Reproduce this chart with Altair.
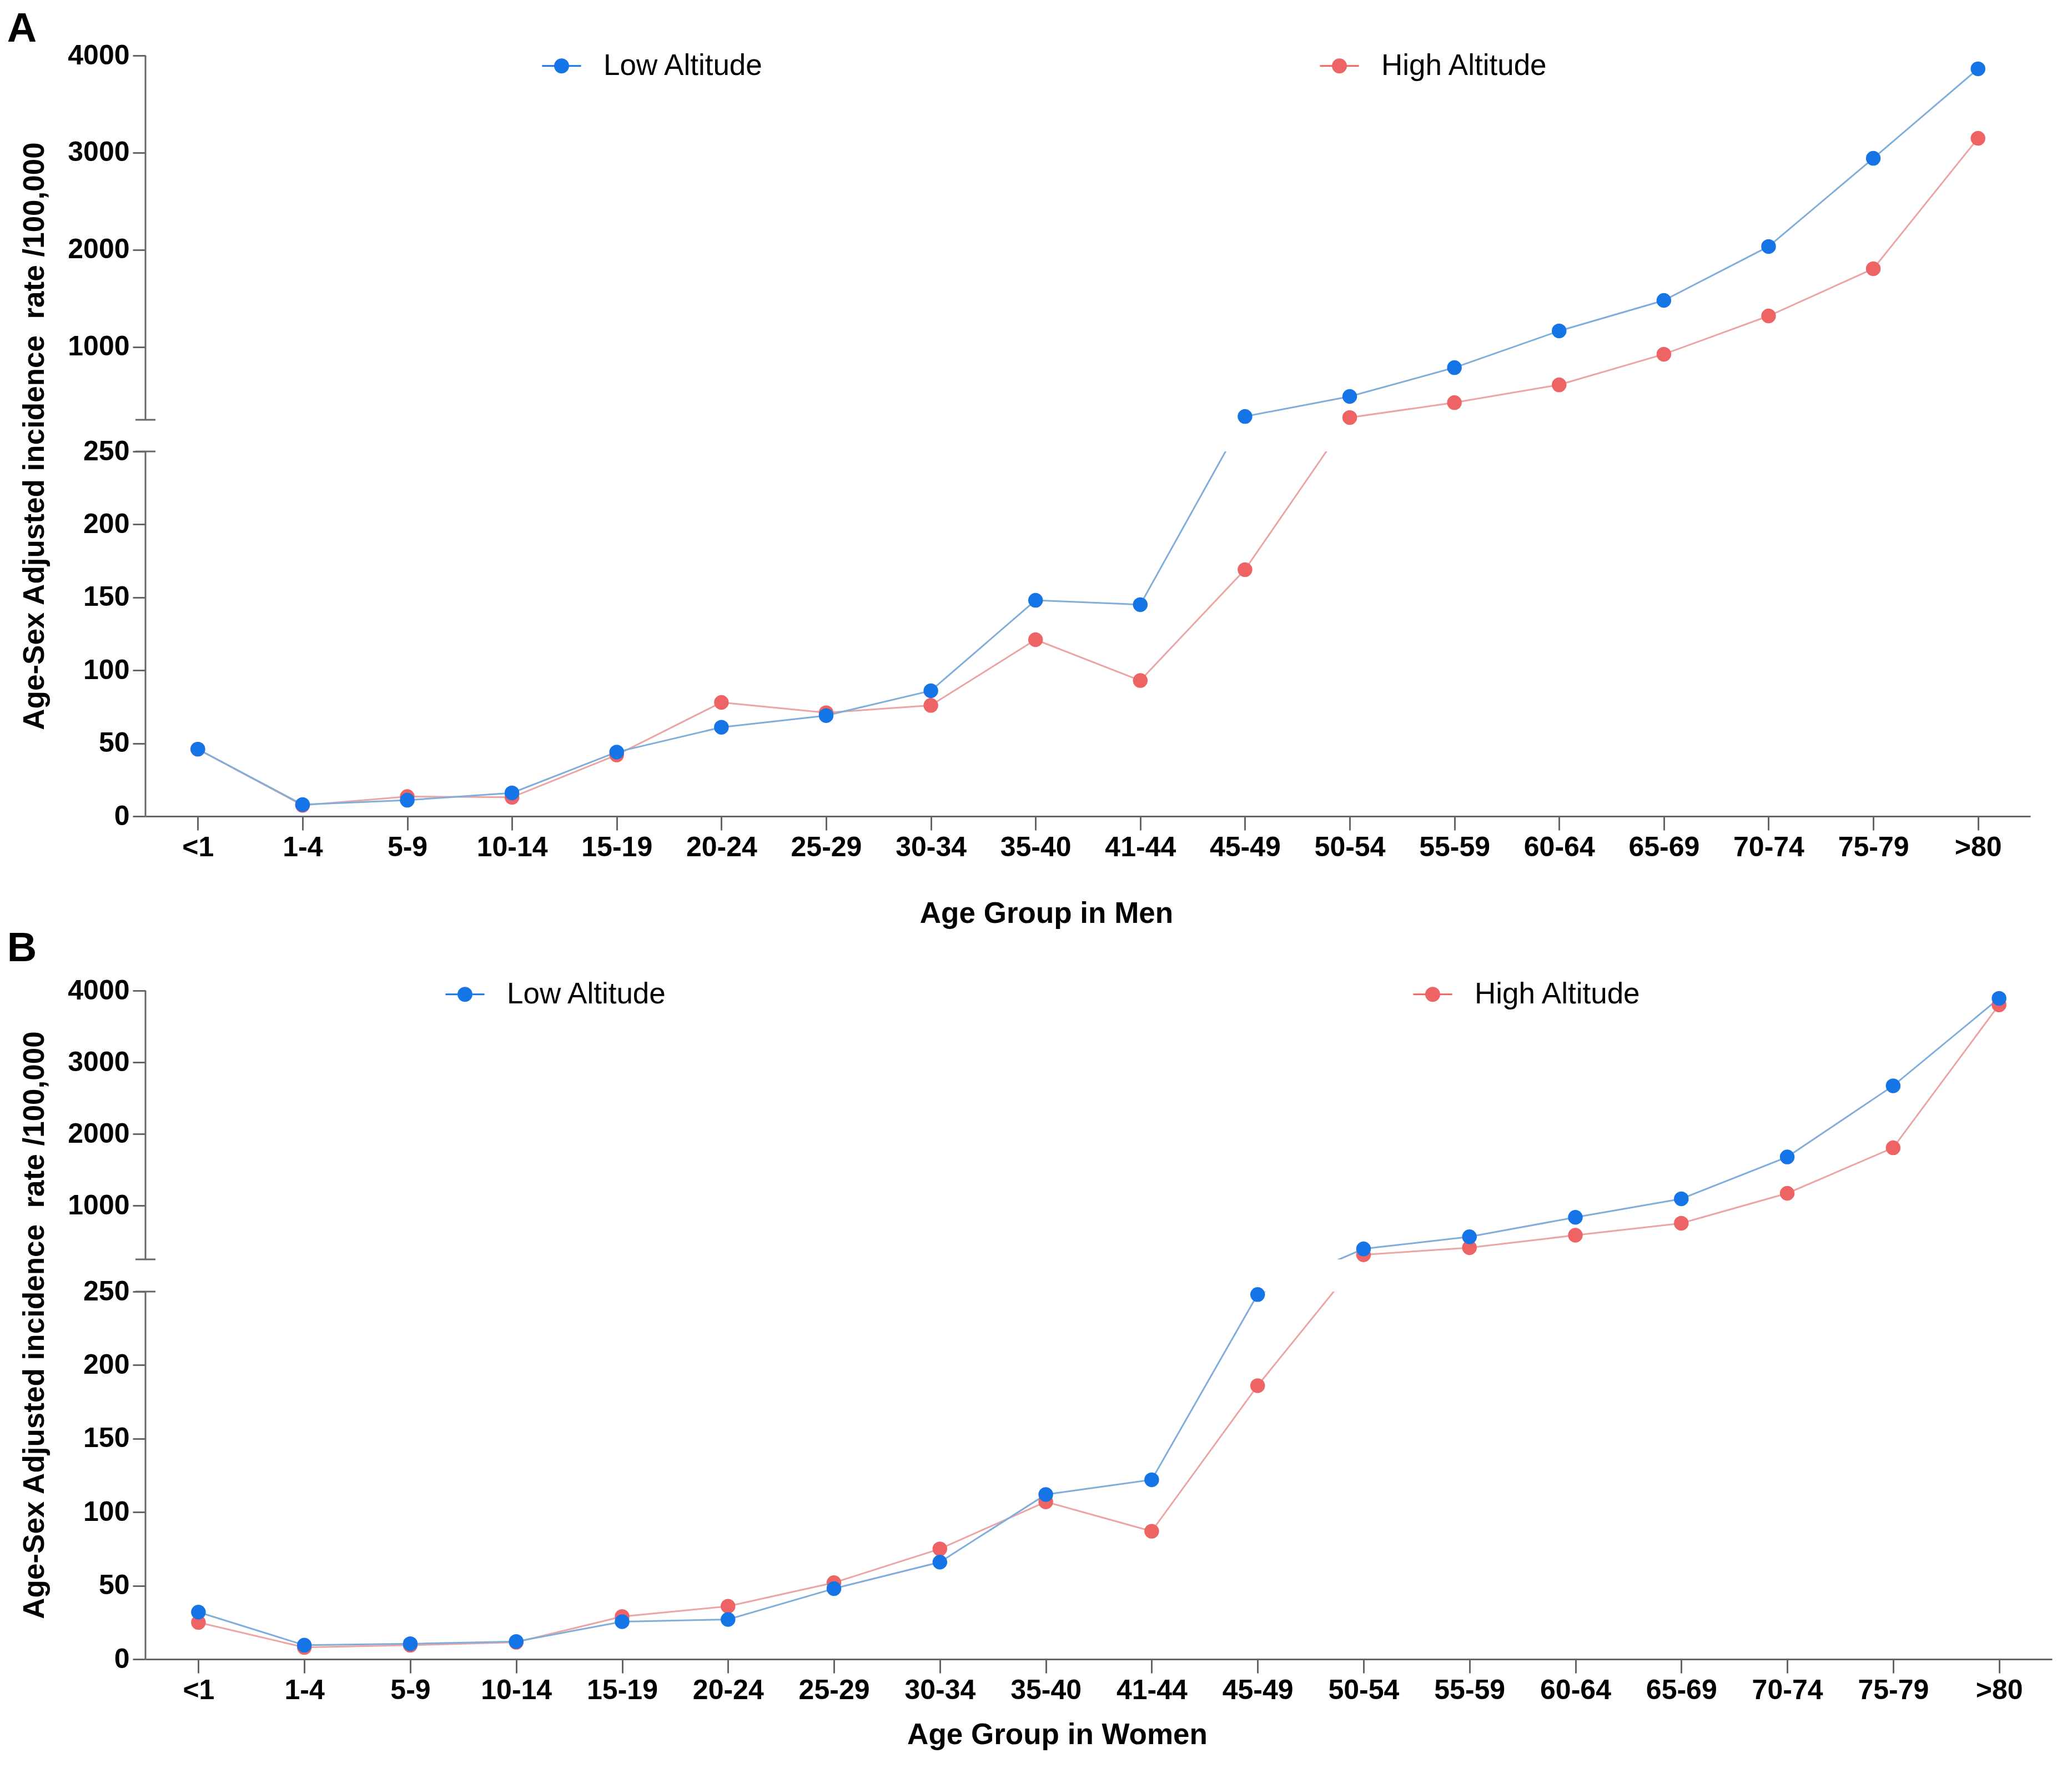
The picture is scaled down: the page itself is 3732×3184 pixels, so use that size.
import altair as alt
import pandas as pd

ages = ["<1", "1-4", "5-9", "10-14", "15-19", "20-24", "25-29", "30-34", "35-40",
        "41-44", "45-49", "50-54", "55-59", "60-64", "65-69", "70-74", "75-79", ">80"]
groups = ["Low Altitude", "High Altitude"]

men_low = [46, 8, 11, 16, 44, 61, 69, 86, 148, 145, 284, 490, 787, 1165, 1479, 2034, 2942, 3863]
men_high = [46, 7.5, 13.5, 13, 42, 78, 71, 76, 121, 93, 169, 273, 427, 610, 925, 1319, 1805, 3148]
women_low = [32, 9.5, 10.5, 12, 25.5, 27, 48, 66, 112, 122, 248, 397, 565, 837, 1095, 1679, 2672, 3892]
women_high = [25, 8, 9.5, 11.5, 29, 36, 52, 75, 107, 87, 186, 314, 413, 587, 754, 1172, 1807, 3801]

y_ticks = [0, 50, 100, 150, 200, 250, 1000, 2000, 3000, 4000]
break_lo = 250
break_hi = 250.001
y_max = 4000

dot_colors = ["#1574E6", "#EE6363"]
line_colors = ["#80AEDA", "#EBA5A5"]
AXC = "#666666"
FONT = "Liberation Sans"
LEG_PATH = ("M-2.6,-0.12H2.6V0.12H-2.6Z "
            "M1,0A1,1,0,1,1,-1,0A1,1,0,1,1,1,0Z")
Y_TITLE = "Age-Sex Adjusted incidence\u00a0 rate /100,000"


def long_df(low, high):
    rows = []
    for g, vals in (("High Altitude", high), ("Low Altitude", low)):
        for i, (a, v) in enumerate(zip(ages, vals)):
            rows.append({"age": a, "idx": i, "group": g, "value": v})
    return pd.DataFrame(rows)


def panel(low, high, letter, xtitle, W, H, split, legx, legy, colpad, xtp, toff):
    df = long_df(low, high)
    yscale = alt.Scale(domain=[0, break_lo, break_hi, y_max],
                       range=[H, split[0], split[1], 0], zero=False, nice=False)
    xaxis = alt.Axis(title=xtitle, labelAngle=0, tickSize=25, tickWidth=3,
                     tickColor=AXC, domainColor=AXC, domainWidth=3, grid=False,
                     labelFont=FONT, labelFontSize=50, labelFontWeight="bold",
                     labelColor="black", labelPadding=6,
                     titleFont=FONT, titleFontSize=53, titleFontWeight="bold",
                     titleColor="black", titlePadding=xtp, titleX=W / 2 - 75)
    yaxis = alt.Axis(title=Y_TITLE, values=y_ticks,
                     format="d", domain=False, grid=False, tickSize=23, tickWidth=3,
                     tickColor=AXC, labelFont=FONT, labelFontSize=50,
                     labelFontWeight="bold", labelColor="black", labelPadding=6,
                     titleFont=FONT, titleFontSize=53, titleFontWeight="bold",
                     titleColor="black", titlePadding=32)
    xenc = alt.X("age:N", sort=ages, scale=alt.Scale(type="point", padding=0.5),
                 axis=xaxis)

    base = alt.Chart(df)
    # stroke scale listed in reverse order so that it is not merged with the dot legend
    lines = base.mark_line(strokeWidth=3).encode(
        x=xenc,
        y=alt.Y("value:Q", scale=yscale, axis=yaxis),
        stroke=alt.Stroke("group:N",
                          scale=alt.Scale(domain=groups[::-1], range=line_colors[::-1]),
                          legend=None),
        order="idx:Q",
    )
    mask_df = pd.DataFrame({"value": [break_lo], "hi": [break_hi]})
    mask = alt.Chart(mask_df).mark_rect(color="white").encode(
        y=alt.Y("value:Q", scale=yscale, axis=yaxis), y2="hi:Q",
        x=alt.value(-1), x2=alt.value(W + 1))
    points = base.mark_circle(size=700, opacity=1).encode(
        x=xenc,
        y=alt.Y("value:Q", scale=yscale, axis=yaxis),
        color=alt.Color("group:N", scale=alt.Scale(domain=groups, range=dot_colors),
                        legend=alt.Legend(title=None, orient="none", legendX=legx,
                                          legendY=legy, direction="horizontal",
                                          symbolType=LEG_PATH, symbolSize=729,
                                          symbolStrokeWidth=0,
                                          labelFont=FONT, labelFontSize=53,
                                          labelColor="black", labelOffset=49,
                                          labelLimit=0,
                                          columnPadding=colpad, padding=0)),
    )
    seg_df = pd.DataFrame({"value": [0, break_hi], "hi": [break_lo, y_max]})
    yline = alt.Chart(seg_df).mark_rule(color=AXC, strokeWidth=3).encode(
        y=alt.Y("value:Q", scale=yscale, axis=yaxis), y2="hi:Q", x=alt.value(0))
    cap_df = pd.DataFrame({"value": [break_lo, break_hi]})
    caps = alt.Chart(cap_df).mark_rule(color=AXC, strokeWidth=3).encode(
        y=alt.Y("value:Q", scale=yscale, axis=yaxis), x=alt.value(-18), x2=alt.value(18))

    return alt.layer(lines, mask, points, yline, caps).properties(
        width=W, height=H,
        title=alt.TitleParams(letter, anchor="start", frame="bounds", font=FONT,
                              fontSize=74, fontWeight="bold", color="black",
                              dx=-24, offset=toff),
    )


pa = panel(men_low, men_high, "A", "Age Group in Men", 3395, 1370, (713, 656),
           723, -8, 1001, 68, -16)
pb = panel(women_low, women_high, "B", "Age Group in Women", 3434, 1204, (542, 484),
           549, -20, 1343, 29, 12)

chart = alt.vconcat(pa, pb, spacing=0).resolve_scale(
    x="independent", y="independent", color="independent", stroke="independent"
).resolve_legend(color="independent").properties(
    padding={"left": 4, "top": 8, "right": 5, "bottom": 5}
).configure(background="white").configure_view(stroke=None)

chart.save("out.html", embed_options={"renderer": "svg", "actions": False})
